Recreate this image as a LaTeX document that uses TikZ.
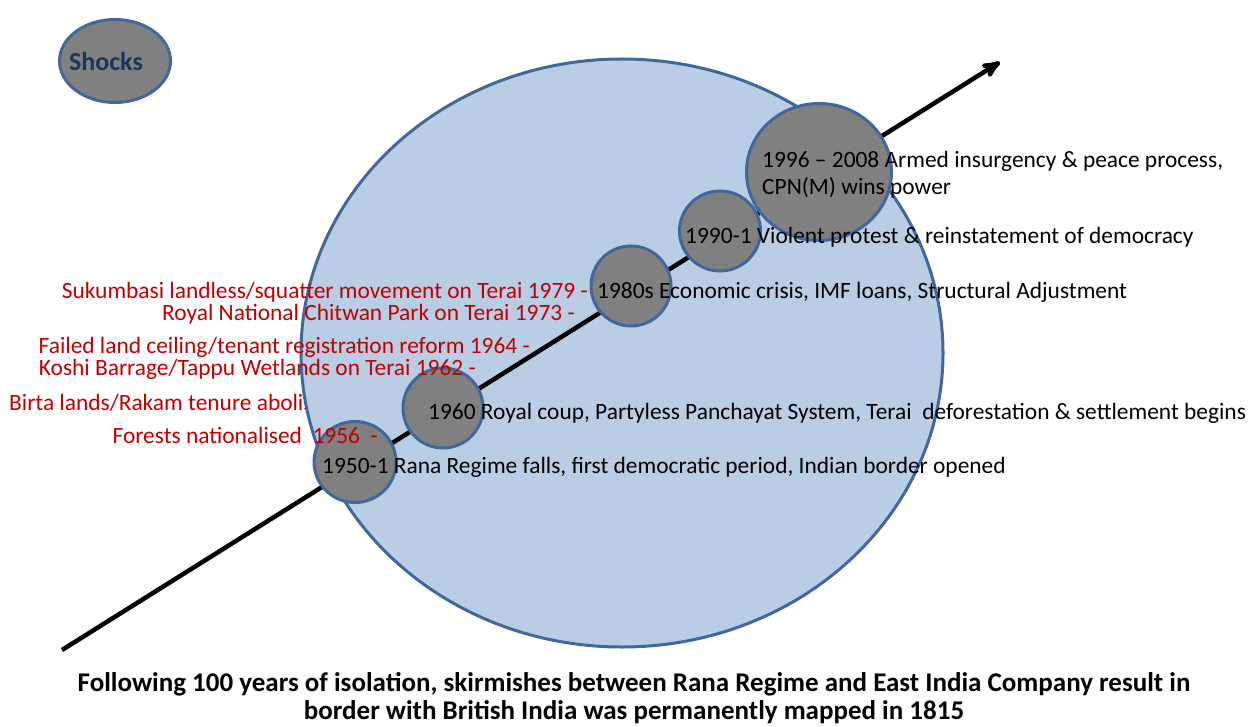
\documentclass[tikz,border=0pt]{standalone}
\usepackage{fontspec}
\setmainfont{Carlito}
\usetikzlibrary{arrows,shapes.geometric}
\definecolor{shockfill}{HTML}{B9CDE5}
\definecolor{rimblue}{HTML}{41689A}
\definecolor{eventred}{HTML}{C00000}
\definecolor{shockink}{HTML}{17375E}

\begin{document}
\begin{tikzpicture}[x=1pt,y=-1pt,>=stealth',
                    font=\fontsize{23.4}{28}\selectfont]
	\tikzstyle{event}=[ellipse,fill=gray,draw=rimblue,line width=3pt,inner sep=0pt]
	\tikzstyle{redlabel}=[text=eventred,anchor=east,inner sep=0pt]
	\tikzstyle{eventtext}=[anchor=west,inner sep=0pt]

	\useasboundingbox (0,0) rectangle (1257,727);

	% label partly hidden behind the big shock circle
	\node[redlabel,anchor=west] (birta) at (9,403) {Birta lands/Rakam tenure abolished};

	\node[ellipse,fill=shockfill,draw=rimblue,line width=3pt,
	      minimum width=642pt,minimum height=588pt] (bigshock) at (622,353) {};

	\coordinate (tail) at (62,650);
	\coordinate (head) at (1000,62);
	\draw[->,line width=4.5pt] (tail) -- (head);

	\node[event,minimum width=111pt,minimum height=83pt,
	      label={[xshift=-9pt,text=shockink,font=\fontsize{26}{30}\bfseries]center:Shocks}] (shocks) at (115,61) {};
	\node[event,minimum width=82pt,minimum height=81pt]   (e1950) at (355,462) {};
	\node[event,minimum width=80pt,minimum height=80pt]   (e1960) at (443,408) {};
	\node[event,minimum width=80pt,minimum height=80pt]   (e1980) at (631,286) {};
	\node[event,minimum width=81pt,minimum height=80pt]   (e1990) at (720,231) {};
	\node[event,minimum width=145pt,minimum height=137pt] (e1996) at (819,172) {};

	\node[redlabel] (sukumbasi) at (588,292) {Sukumbasi landless/squatter movement on Terai 1979 -};
	\node[redlabel] (chitwan)   at (575,314) {Royal National Chitwan Park on Terai 1973 -};
	\node[redlabel] (ceiling)   at (530,347) {Failed land ceiling/tenant registration reform 1964 -};
	\node[redlabel] (koshi)     at (476,369) {Koshi Barrage/Tappu Wetlands on Terai 1962 -};
	\node[redlabel] (forests)   at (378,435) {Forests nationalised~ 1956~ -};

	\node[eventtext] (t1950) at (322,467) {1950-1 Rana Regime falls, first democratic period, Indian border opened};
	\node[eventtext] (t1960) at (428,413) {1960 Royal coup, Partyless Panchayat System, Terai~ deforestation \& settlement begins};
	\node[eventtext] (t1980) at (597,292) {1980s Economic crisis, IMF loans, Structural Adjustment};
	\node[eventtext] (t1990) at (685,237) {1990-1 Violent protest \& reinstatement of democracy};
	\node[eventtext,align=left,font=\fontsize{23.4}{27}\selectfont] (t1996) at (762,175)
	     {1996 – 2008 Armed insurgency \& peace process,\\CPN(M) wins power};

	\node[align=center,inner sep=0pt,font=\fontsize{27}{28.5}\bfseries] (origin) at (634,698)
	     {Following 100 years of isolation, skirmishes between Rana Regime and East India Company result in\\
	      border with British India was permanently mapped in 1815};
\end{tikzpicture}
\end{document}
